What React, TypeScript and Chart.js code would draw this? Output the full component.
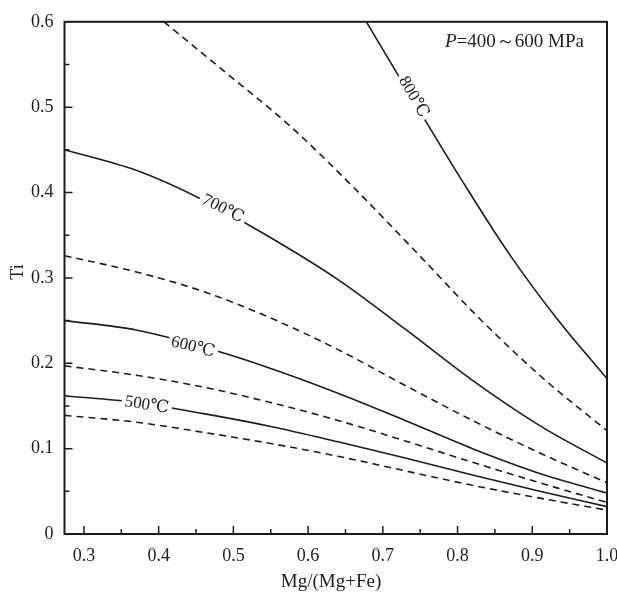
import React, { useEffect, useRef } from 'react';
import { Chart, registerables } from 'chart.js';

Chart.register(...registerables);

// ---- Data ----
const c800X = [0.678, 0.742, 0.806, 0.87, 0.935, 1.0];
const c800Y = [0.6, 0.506, 0.414, 0.327, 0.25, 0.182];

const dashAX = [0.407, 0.492, 0.577, 0.662, 0.746, 0.831, 0.915, 1.0];
const dashAY = [0.6, 0.539, 0.477, 0.405, 0.329, 0.251, 0.182, 0.121];

const leftX = [0.274, 0.37, 0.46, 0.55, 0.64, 0.73, 0.82, 0.91, 1.0];
const c700Y = [0.45, 0.426, 0.391, 0.347, 0.298, 0.24, 0.18, 0.127, 0.083];
const dashBY = [0.326, 0.307, 0.284, 0.253, 0.216, 0.174, 0.133, 0.095, 0.06];
const c600Y = [0.25, 0.239, 0.219, 0.194, 0.165, 0.133, 0.1, 0.071, 0.048];
const dashCY = [0.197, 0.186, 0.172, 0.154, 0.133, 0.109, 0.084, 0.06, 0.037];
const c500Y = [0.162, 0.154, 0.141, 0.126, 0.108, 0.089, 0.069, 0.05, 0.032];
const dashDY = [0.139, 0.131, 0.119, 0.106, 0.091, 0.074, 0.057, 0.042, 0.028];

const xTickValues = [0.3, 0.4, 0.5, 0.6, 0.7, 0.8, 0.9, 1.0];
const xTickLabels = ['0.3', '0.4', '0.5', '0.6', '0.7', '0.8', '0.9', '1.0'];
const xMinorValues = [0.35, 0.45, 0.55, 0.65, 0.75, 0.85, 0.95];
const yTickValues = [0, 0.1, 0.2, 0.3, 0.4, 0.5, 0.6];
const yMinorValues = [0.05, 0.15, 0.25, 0.35, 0.45, 0.55];

const isoLabels = ['800℃', '700℃', '600℃', '500℃'];
const isoLabelX = [0.741, 0.486, 0.446, 0.384];
const isoLabelY = [0.512, 0.381, 0.219, 0.151];
const isoLabelAngle = [60, 27, 14, 9];

const curves = [
  { x: c800X, y: c800Y, dashed: false },
  { x: dashAX, y: dashAY, dashed: true },
  { x: leftX, y: c700Y, dashed: false },
  { x: leftX, y: dashBY, dashed: true },
  { x: leftX, y: c600Y, dashed: false },
  { x: leftX, y: dashCY, dashed: true },
  { x: leftX, y: c500Y, dashed: false },
  { x: leftX, y: dashDY, dashed: true },
];

const SERIF = "'Liberation Serif', 'DejaVu Serif', 'Times New Roman', serif";
const INK = '#1c1c1c';

const decorPlugin = {
  id: 'decor',
  afterDatasetsDraw(chart: any) {
    const ctx = chart.ctx as CanvasRenderingContext2D;
    const xs = chart.scales.x;
    const ys = chart.scales.y;
    const a = chart.chartArea;

    // isotherm labels with white background
    isoLabels.forEach((t, i) => {
      const px = xs.getPixelForValue(isoLabelX[i]);
      const py = ys.getPixelForValue(isoLabelY[i]);
      ctx.save();
      ctx.translate(px, py);
      ctx.rotate((isoLabelAngle[i] * Math.PI) / 180);
      ctx.font = `17px ${SERIF}`;
      const w = ctx.measureText(t).width;
      ctx.fillStyle = '#ffffff';
      ctx.fillRect(-w / 2 - 3, -8, w + 6, 16);
      ctx.fillStyle = INK;
      ctx.textAlign = 'center';
      ctx.textBaseline = 'middle';
      ctx.fillText(t, 0, 0);
      ctx.restore();
    });

    ctx.save();
    // frame
    ctx.strokeStyle = INK;
    ctx.lineWidth = 2;
    ctx.strokeRect(a.left, a.top, a.right - a.left, a.bottom - a.top);

    // inward ticks
    ctx.lineWidth = 1.5;
    ctx.beginPath();
    xTickValues.forEach((v) => {
      const p = xs.getPixelForValue(v);
      ctx.moveTo(p, a.bottom);
      ctx.lineTo(p, a.bottom - 8);
    });
    xMinorValues.forEach((v) => {
      const p = xs.getPixelForValue(v);
      ctx.moveTo(p, a.bottom);
      ctx.lineTo(p, a.bottom - 5);
    });
    yTickValues.forEach((v) => {
      const p = ys.getPixelForValue(v);
      ctx.moveTo(a.left, p);
      ctx.lineTo(a.left + 8, p);
    });
    yMinorValues.forEach((v) => {
      const p = ys.getPixelForValue(v);
      ctx.moveTo(a.left, p);
      ctx.lineTo(a.left + 5, p);
    });
    ctx.stroke();

    // x tick labels
    ctx.fillStyle = INK;
    ctx.font = `18px ${SERIF}`;
    ctx.textAlign = 'center';
    ctx.textBaseline = 'middle';
    xTickValues.forEach((v, i) => {
      ctx.fillText(xTickLabels[i], xs.getPixelForValue(v), a.bottom + 22);
    });

    // axis titles
    ctx.font = `19px ${SERIF}`;
    ctx.fillText('Mg/(Mg+Fe)', 331, a.bottom + 48);
    ctx.save();
    ctx.translate(18, 272);
    ctx.rotate(-Math.PI / 2);
    ctx.font = `18px ${SERIF}`;
    ctx.fillText('Ti', 0, 0);
    ctx.restore();

    // pressure annotation
    ctx.textAlign = 'left';
    ctx.textBaseline = 'alphabetic';
    ctx.font = `italic 19px ${SERIF}`;
    const startX = 445;
    const baseY = 47;
    ctx.fillText('P', startX, baseY);
    const pw = ctx.measureText('P').width;
    ctx.font = `19px ${SERIF}`;
    ctx.fillText('=400～600 MPa', startX + pw, baseY);
    ctx.restore();
  },
};

export default function App() {
  const ref = useRef<HTMLCanvasElement>(null);
  useEffect(() => {
    if (!ref.current) return;
    const chart = new Chart(ref.current, {
      type: 'line',
      data: {
        datasets: curves.map((c) => ({
          data: c.x.map((x, i) => ({ x, y: c.y[i] })),
          borderColor: INK,
          borderWidth: 1.6,
          borderDash: c.dashed ? [7, 5] : [],
          pointRadius: 0,
          fill: false,
          cubicInterpolationMode: 'monotone' as const,
        })),
      },
      options: {
        animation: false,
        responsive: false,
        devicePixelRatio: 1,
        layout: { padding: { left: 0, top: 14, right: 10, bottom: 0 } },
        plugins: { legend: { display: false }, tooltip: { enabled: false } },
        scales: {
          x: {
            type: 'linear',
            min: 0.274,
            max: 1.0,
            grid: { display: false, drawTicks: false },
            border: { display: false },
            ticks: { display: false },
            afterFit: (s: any) => {
              s.height = 59;
            },
          },
          y: {
            type: 'linear',
            min: 0,
            max: 0.6,
            grid: { display: false, drawTicks: false },
            border: { display: false },
            ticks: {
              stepSize: 0.1,
              padding: 11,
              color: INK,
              font: { family: SERIF, size: 18 },
              callback: (v: any) => (Number(v) === 0 ? '0' : Number(v).toFixed(1)),
            },
            afterFit: (s: any) => {
              s.width = 64.5;
            },
          },
        },
      },
      plugins: [decorPlugin],
    });
    return () => chart.destroy();
  }, []);
  return (
    <div style={{ position: 'absolute', left: 0, top: 0, width: 617, height: 593, background: '#fff' }}>
      <canvas ref={ref} width={617} height={593} style={{ display: 'block' }} />
    </div>
  );
}
